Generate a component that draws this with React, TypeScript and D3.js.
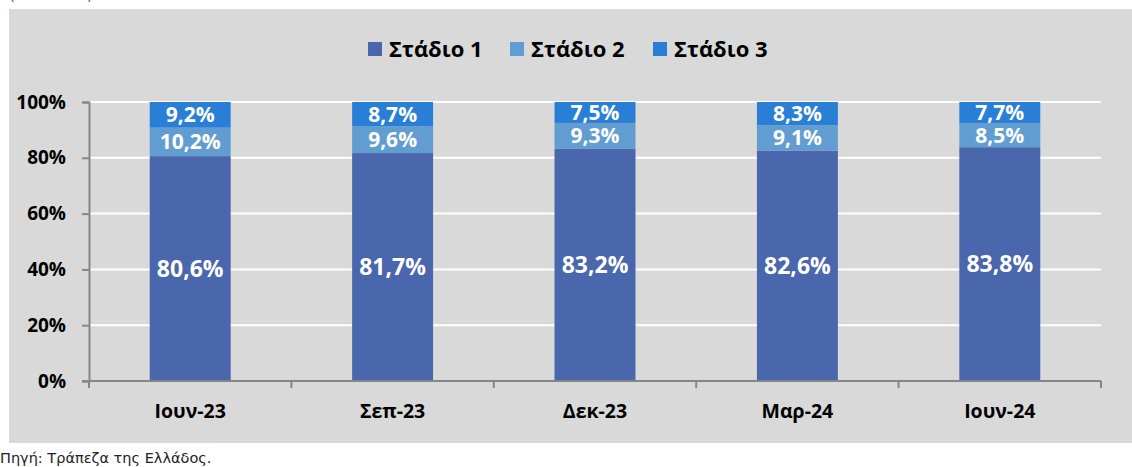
import React, { useRef, useEffect } from "react";
import * as d3 from "d3";

const categories = ["Ιουν-23", "Σεπ-23", "Δεκ-23", "Μαρ-24", "Ιουν-24"];
const seriesNames = ["Στάδιο 1", "Στάδιο 2", "Στάδιο 3"];
const stage1 = [80.6, 81.7, 83.2, 82.6, 83.8];
const stage2 = [10.2, 9.6, 9.3, 9.1, 8.5];
const stage3 = [9.2, 8.7, 7.5, 8.3, 7.7];
const yTicks = [0, 20, 40, 60, 80, 100];
const colors = ["#4A66AC", "#629DD1", "#297FD5"];

const fmt = (v: number) => v.toFixed(1).replace(".", ",") + "%";

const App = () => {
  const svgRef = useRef<SVGSVGElement>(null);

  useEffect(() => {
    const W = 1132;
    const H = 467;
    const margin = { top: 102, left: 89, right: 31, bottom: 86 };
    const font = "'Open Sans', sans-serif";

    const svg = d3.select(svgRef.current).attr("width", W).attr("height", H);
    svg.selectAll("*").remove();

    // panel background
    svg.append("rect").attr("width", W).attr("height", H).attr("fill", "#fff");
    svg
      .append("rect")
      .attr("x", 9)
      .attr("y", 9)
      .attr("width", W - 9)
      .attr("height", 434)
      .attr("fill", "#D9D9D9");

    // cut-off unit caption at the very top
    svg
      .append("text")
      .attr("x", 10)
      .attr("y", -1)
      .attr("font-family", font)
      .attr("font-size", 14)
      .attr("fill", "#2F5597")
      .text("(ποσοστά %)");

    const x = d3
      .scaleBand()
      .domain(categories)
      .range([margin.left, W - margin.right])
      .paddingInner(0.6)
      .paddingOuter(0.3);
    const band = d3
      .scaleBand()
      .domain(categories)
      .range([margin.left, W - margin.right]);
    const y = d3
      .scaleLinear()
      .domain([0, 100])
      .range([H - margin.bottom, margin.top]);

    // gridlines
    svg
      .append("g")
      .selectAll("line")
      .data(yTicks.filter((t) => t > 0))
      .enter()
      .append("line")
      .attr("x1", margin.left)
      .attr("x2", W - margin.right)
      .attr("y1", (d) => y(d))
      .attr("y2", (d) => y(d))
      .attr("stroke", "#fff")
      .attr("stroke-width", 2);

    // stacked data
    const rows = categories.map((c, i) => ({
      cat: c,
      s0: stage1[i],
      s1: stage2[i],
      s2: stage3[i],
    }));
    const stack = d3.stack<any>().keys(["s0", "s1", "s2"]);
    const layers = stack(rows);

    layers.forEach((layer, li) => {
      const g = svg.append("g");
      g.selectAll("rect")
        .data(layer)
        .enter()
        .append("rect")
        .attr("x", (d) => x(d.data.cat)!)
        .attr("width", x.bandwidth())
        .attr("y", (d) => y(d[1]))
        .attr("height", (d) => y(d[0]) - y(d[1]))
        .attr("fill", colors[li]);
      g.selectAll("text")
        .data(layer)
        .enter()
        .append("text")
        .attr("x", (d) => x(d.data.cat)! + x.bandwidth() / 2)
        .attr("y", (d) => (y(d[0]) + y(d[1])) / 2)
        .attr("dy", "0.36em")
        .attr("text-anchor", "middle")
        .attr("font-family", font)
        .attr("font-weight", "bold")
        .attr("font-size", li === 0 ? 23 : 21)
        .attr("fill", "#fff")
        .text((d) => fmt(d[1] - d[0]));
    });

    // y axis
    const yAxis = svg
      .append("g")
      .attr("transform", `translate(${margin.left},0)`)
      .call(d3.axisLeft(y).tickValues(yTicks).tickSize(7).tickFormat((d) => d + "%"));
    yAxis.select(".domain").attr("stroke", "#868686").attr("stroke-width", 2);
    yAxis.selectAll(".tick line").attr("stroke", "#868686").attr("stroke-width", 2);
    yAxis
      .selectAll(".tick text")
      .attr("x", -23)
      .attr("font-family", font)
      .attr("font-weight", "bold")
      .attr("font-size", 19)
      .attr("fill", "#000");

    // x axis
    const baseY = y(0);
    svg
      .append("line")
      .attr("x1", margin.left - 7)
      .attr("x2", W - margin.right)
      .attr("y1", baseY)
      .attr("y2", baseY)
      .attr("stroke", "#868686")
      .attr("stroke-width", 2);
    const bounds = categories.map((c) => band(c)! + band.bandwidth());
    svg
      .append("g")
      .selectAll("line")
      .data([band(categories[0])!, ...bounds])
      .enter()
      .append("line")
      .attr("x1", (d) => d)
      .attr("x2", (d) => d)
      .attr("y1", baseY)
      .attr("y2", baseY + 7)
      .attr("stroke", "#868686")
      .attr("stroke-width", 2);
    svg
      .append("g")
      .selectAll("text")
      .data(categories)
      .enter()
      .append("text")
      .attr("x", (d) => band(d)! + band.bandwidth() / 2)
      .attr("y", baseY + 37)
      .attr("text-anchor", "middle")
      .attr("font-family", font)
      .attr("font-weight", "bold")
      .attr("font-size", 19.5)
      .attr("fill", "#000")
      .text((d) => d);

    // legend
    const legendX = [368, 510, 653];
    const legend = svg
      .append("g")
      .selectAll("g")
      .data(seriesNames)
      .enter()
      .append("g")
      .attr("transform", (d, i) => `translate(${legendX[i]},42)`);
    legend
      .append("rect")
      .attr("width", 14)
      .attr("height", 14)
      .attr("fill", (d, i) => colors[i]);
    legend
      .append("text")
      .attr("x", 21)
      .attr("y", 7)
      .attr("dy", "0.36em")
      .attr("font-family", font)
      .attr("font-weight", "bold")
      .attr("font-size", 22)
      .attr("fill", "#000")
      .text((d) => d);

    // source
    svg
      .append("text")
      .attr("x", 0)
      .attr("y", 463)
      .attr("font-family", "'DejaVu Sans', sans-serif")
      .attr("font-size", 14.5)
      .attr("fill", "#222")
      .text("Πηγή: Τράπεζα της Ελλάδος.");
  }, []);

  return (
    <svg
      ref={svgRef}
      style={{ position: "absolute", left: 0, top: 0, display: "block" }}
    ></svg>
  );
};

export default App;
